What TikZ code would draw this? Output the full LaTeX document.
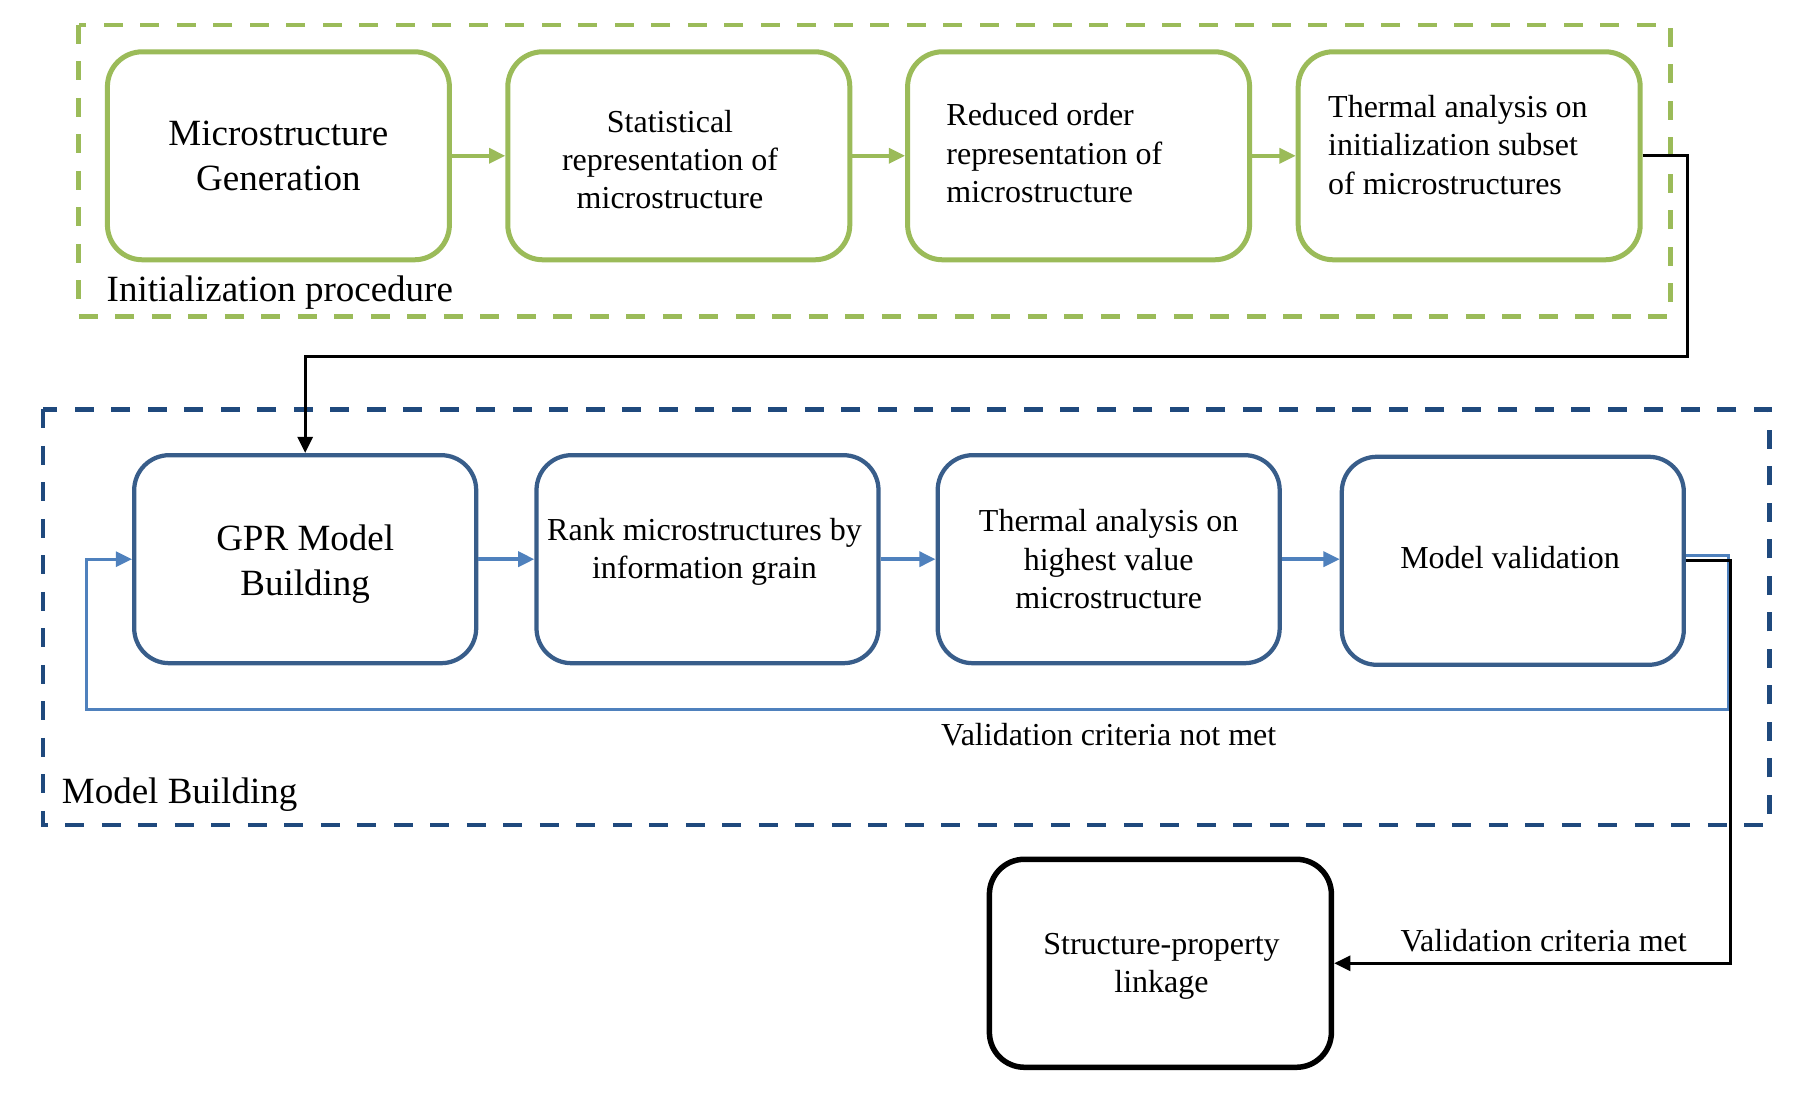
\documentclass[tikz,border=0pt]{standalone}
\usepackage{fontspec}
\setmainfont{Liberation Serif}
\usetikzlibrary{arrows.meta}
\definecolor{grn}{HTML}{9BBB59}
\definecolor{bbox}{HTML}{385D8A}
\definecolor{bdash}{HTML}{1F497D}
\definecolor{barr}{HTML}{4F81BD}
\newcommand\bigtxt{\fontsize{14.8}{18}\selectfont}
\newcommand\smtxt{\fontsize{12.8}{15.3}\selectfont}
\begin{document}
\begin{tikzpicture}[x=0.4pt,y=-0.4pt,
  box/.style={rectangle,rounded corners=14pt,minimum width=136.8pt,minimum height=83.2pt,inner sep=0pt,align=center,line width=2pt,font=\smtxt},
  gbox/.style={box,draw=grn},
  bluebox/.style={box,draw=bbox,line width=1.7pt},
  kbox/.style={box,draw=black,line width=2.2pt},
  lbl/.style={inner sep=0pt,align=left,font=\smtxt},
  tip/.style={-{Triangle[length=6.5pt,width=6pt]}},
  garrow/.style={tip,draw=grn,line width=1.4pt},
  barrow/.style={tip,draw=barr,line width=1.4pt},
  fbline/.style={tip,draw=barr,line width=1.2pt},
  karrow/.style={tip,draw=black,line width=1.3pt},
  gframe/.style={draw=grn,line width=1.9pt,dash pattern=on 7.6pt off 7pt},
  bframe/.style={draw=bdash,line width=1.9pt,dash pattern=on 7.6pt off 7pt},
]
\useasboundingbox[fill=white] (0,0) rectangle (1802,1103);

% frames
\draw[gframe] (78.6,25) rectangle (1670.4,316.7);
\draw[bframe] (43,409.3) rectangle (1769.7,825);

% initialization boxes
\node[gbox,font=\bigtxt] (b1) at (278.4,155.8) {Microstructure\\Generation};
\node[gbox] (b2) at (678.8,155.8) {};
\node[lbl,align=center] (t2) at (670,159.5) {Statistical\\representation of\\microstructure};
\node[gbox] (b3) at (1078.6,155.8) {};
\node[gbox] (b4) at (1469.2,155.8) {};
\node[lbl,anchor=west] (t3) at (945.9,153.3) {Reduced order\\representation of\\microstructure};
\node[lbl,anchor=west] (t4) at (1327.7,145) {Thermal analysis on\\initialization subset\\of microstructures};
\node[inner sep=0pt,anchor=west,font=\bigtxt] (initlbl) at (106.2,293) {Initialization procedure};

% model building boxes
\node[bluebox] (g1) at (305.2,559.2) {};
\node[inner sep=0pt,align=center,font=\bigtxt] (t5) at (305.2,564) {GPR Model\\Building};
\node[bluebox] (g2) at (707.5,559.2) {};
\node[lbl,align=center] (t6) at (704.5,551.5) {Rank microstructures by\\information grain};
\node[bluebox] (g3) at (1108.7,559.2) {Thermal analysis on\\highest value\\microstructure};
\node[bluebox] (g4) at (1512.8,560.8) {};
\node[lbl] (t8) at (1510,558) {Model validation};
\node[inner sep=0pt,anchor=west,font=\bigtxt] (mblbl) at (61.4,794.5) {Model Building};
\node[lbl] (notmet) at (1108.7,734.3) {Validation criteria not met};

% result box
\node[kbox] (s) at (1160.4,963.3) {};
\node[lbl,align=center] (t9) at (1161.5,966.5) {Structure-property\\linkage};
\node[lbl] (met) at (1543.7,941) {Validation criteria met};

% green arrows
\draw[garrow] (b1) -- (b2);
\draw[garrow] (b2) -- (b3);
\draw[garrow] (b3) -- (b4);

% black connector init -> GPR
\coordinate (k1) at (1687.6,356.7);
\draw[karrow] (b4.east) -| (k1) -| (g1.north);

% blue arrows
\draw[barrow] (g1) -- (g2);
\draw[barrow] (g2) -- (g3);
\draw[barrow] (g3.east) -- (g4.west |- g3.east);

% feedback loop
\coordinate (f1) at (1728,710);
\coordinate (f2) at (86.1,710);
\draw[fbline] ([yshift=2.2pt]g4.east) -| (f1) -- (f2) |- (g1.west);

% black connector validation -> linkage
\coordinate (k2) at (1730.7,963.3);
\draw[karrow] (g4.east) -| (k2) -- (s.east);
\end{tikzpicture}
\end{document}
